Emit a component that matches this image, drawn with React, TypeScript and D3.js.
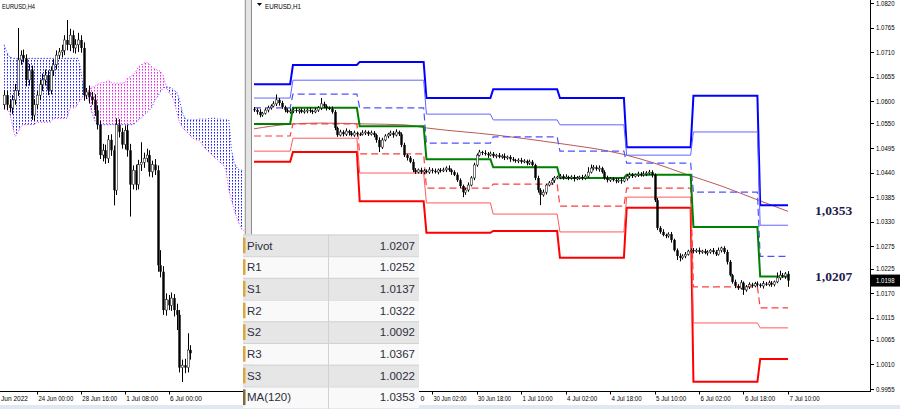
import React from 'react';
import * as d3 from 'd3';

// ---------- H1 panel data (prices as pips above 1.0000) ----------
// bars 0..192 = 27 Jun 10:00 .. 7 Jul 10:00 (EURUSD H1)
const h1Open0 = 582;
const h1Close = [
  580, 576, 569, 573, 580, 585, 589, 594, 603, 596,
  587, 580, 576, 578, 580, 578, 580, 576, 578, 580,
  578, 576, 580, 585, 594, 589, 585, 583, 576, 540,
  524, 531, 526, 533, 529, 524, 529, 526, 526, 529,
  531, 526, 529, 524, 513, 497, 513, 522, 526, 529,
  524, 531, 526, 502, 479, 473, 464, 446, 441, 446,
  441, 444, 441, 446, 444, 441, 446, 444, 446, 450,
  446, 441, 435, 423, 410, 396, 401, 412, 428, 457,
  479, 486, 484, 482, 479, 482, 477, 479, 475, 477,
  473, 475, 470, 468, 466, 468, 464, 466, 461, 464,
  457, 428, 401, 390, 396, 412, 417, 423, 428, 430,
  432, 428, 430, 428, 430, 426, 428, 430, 428, 432,
  441, 450, 452, 448, 450, 441, 428, 423, 426, 423,
  421, 423, 421, 426, 432, 435, 432, 435, 437, 435,
  437, 439, 441, 435, 378, 316, 307, 300, 298, 302,
  289, 266, 253, 249, 253, 257, 264, 266, 264, 266,
  262, 264, 260, 262, 266, 262, 257, 266, 271, 262,
  240, 210, 195, 186, 181, 193, 177, 184, 189, 186,
  191, 189, 186, 191, 189, 193, 189, 195, 204, 210,
  208, 213, 198,
];
const h1UpWick = [
  5, 4, 6, 3, 4, 5, 4, 6, 12, 4, 5, 3, 4, 6, 4, 5, 3, 4, 5, 4,
  6, 3, 5, 4, 13, 5, 4, 3, 5, 4, 3, 5, 4, 6, 3, 4, 5, 3, 4, 6,
  4, 3, 5, 4, 3, 6, 5, 4, 3, 5, 4, 6, 3, 4, 5, 3, 4, 6, 4, 3,
  5, 4, 3, 6, 4, 5, 3, 4, 5, 4, 6, 3, 4, 5, 4, 3, 5, 6, 4, 5,
  4, 5, 3, 6, 4, 5, 4, 3, 5, 4, 6, 3, 4, 5, 3, 4, 5, 4, 3, 5,
  4, 3, 5, 4, 6, 3, 4, 5, 4, 3, 5, 4, 6, 3, 4, 5, 4, 3, 5, 4,
  11, 8, 5, 4, 6, 3, 4, 5, 4, 3, 5, 4, 6, 3, 4, 5, 4, 3, 5, 4,
  6, 4, 5, 4, 3, 5, 4, 6, 3, 4, 5, 3, 4, 6, 4, 5, 3, 4, 5, 4,
  6, 3, 5, 4, 3, 5, 4, 6, 3, 4, 5, 4, 3, 5, 4, 6, 3, 4, 5, 4,
  4, 5, 3, 6, 4, 5, 4, 3, 12, 10, 5, 4, 6,
];
const h1DnWick = [
  4, 6, 5, 4, 3, 5, 4, 3, 5, 6, 4, 5, 3, 4, 5, 4, 6, 3, 4, 5,
  4, 5, 3, 4, 5, 4, 6, 3, 4, 5, 4, 3, 5, 4, 6, 3, 4, 5, 4, 3,
  5, 4, 3, 5, 6, 11, 4, 3, 5, 4, 6, 3, 4, 5, 4, 6, 3, 5, 4, 3,
  4, 5, 3, 4, 6, 3, 5, 4, 3, 5, 4, 6, 3, 4, 5, 11, 6, 4, 3, 5,
  4, 3, 5, 4, 6, 3, 4, 5, 3, 4, 5, 4, 6, 3, 4, 5, 4, 3, 5, 4,
  3, 5, 6, 23, 4, 5, 3, 4, 6, 3, 5, 4, 3, 5, 4, 6, 3, 4, 5, 4,
  4, 3, 5, 4, 6, 3, 4, 5, 4, 3, 5, 4, 6, 3, 4, 5, 4, 3, 5, 4,
  4, 5, 3, 6, 4, 5, 4, 3, 5, 4, 6, 3, 9, 8, 4, 5, 3, 4, 5, 4,
  5, 4, 3, 6, 4, 5, 4, 3, 5, 4, 6, 3, 4, 5, 4, 3, 11, 4, 5, 4,
  3, 5, 4, 6, 3, 4, 5, 4, 3, 5, 4, 6, 14,
];

// daily pivot levels, days 27 Jun .. 7 Jul (start bar of each day)
const dayStartBar = [0, 14, 38, 62, 86, 110, 134, 158, 182];
const lastH1Bar = 192;
const pivR3 = [638, 681, 688, 607, 627, 607, 497, 612, 367];
const pivR2 = [607, 647, 647, 571, 558, 547, 479, 531, 322];
const pivR1 = [585, 616, 585, 506, 520, 488, 461, 396, 252];
const pivPP = [549, 585, 544, 470, 452, 428, 435, 318, 207];
const pivS1 = [522, 549, 482, 405, 414, 365, 405, 184, 137];
const pivS2 = [488, 517, 439, 372, 347, 307, 385, 103, 92];
const pivS3 = [464, 486, 376, 305, 309, 249, 361, -29, 22];

// MA(120) read at a few bars
const maBars = [0, 12, 24, 40, 54, 62, 87, 109, 132, 144, 155, 168, 181, 192];
const maVals = [538, 548, 551, 549, 547, 540, 524, 506, 482, 461, 437, 410, 379, 353];

// visible H1 time labels (earlier ones sit under the table; only the trailing "0" of "29 Jun 10:00" shows)
const h1TickBars = [64, 80, 96, 112, 128, 144, 160, 176, 192];
const h1TickLabels = ['30 Jun 02:00', '30 Jun 18:00',
  '1 Jul 10:00', '4 Jul 02:00', '4 Jul 18:00', '5 Jul 10:00', '6 Jul 02:00', '6 Jul 18:00', '7 Jul 10:00'];
const h1CutLabel = '0';
const priceTicks = [1.0820, 1.0765, 1.0710, 1.0655, 1.0600, 1.0550, 1.0495, 1.0440, 1.0385, 1.0330,
  1.0275, 1.0225, 1.0170, 1.0115, 1.0065, 1.0010, 0.9955];
const lastPrice = 1.0198;

const tableLabels = ['Pivot', 'R1', 'S1', 'R2', 'S2', 'R3', 'S3', 'MA(120)'];
const tableValues = ['1.0207', '1.0252', '1.0137', '1.0322', '1.0092', '1.0367', '1.0022', '1.0353'];
const calloutValues = ['1,0353', '1,0207'];
const calloutPrices = [1.0353, 1.0207];

// ---------- H4 panel data ----------
// bars n = -60..8 (n = 0 is 6 Jul 00:00)
const h4FirstBar = -60;
const h4Open0 = 509;
const h4Close = [
  521, 509, 505, 515, 527, 565, 571, 567, 540, 552,
  496, 509, 521, 534, 540, 546, 527, 552, 559, 571,
  575, 577, 590, 584, 596, 580, 584, 590, 580, 521,
  525, 519, 515, 502, 484, 446, 452, 442, 465, 452,
  402, 484, 475, 459, 477, 452, 409, 427, 409, 434,
  437, 442, 446, 425, 434, 427, 308, 300, 252, 265,
  258, 267, 252, 246, 180, 183, 180, 202, 198,
];
const h4UpWick = [
  6, 5, 7, 6, 8, 40, 6, 7, 5, 8, 6, 7, 5, 6, 8, 7, 6, 5, 7, 6,
  5, 7, 6, 25, 8, 6, 7, 9, 6, 7, 5, 8, 6, 7, 6, 5, 8, 7, 6, 7,
  6, 8, 7, 5, 6, 7, 8, 6, 7, 6, 25, 7, 8, 6, 5, 7, 6, 19, 7, 8,
  6, 7, 5, 8, 6, 7, 8, 21, 6,
];
const h4DnWick = [
  6, 7, 5, 8, 6, 7, 6, 5, 8, 7, 6, 7, 5, 6, 8, 7, 6, 5, 7, 6,
  5, 7, 6, 7, 8, 6, 7, 9, 6, 7, 5, 8, 6, 7, 6, 5, 8, 7, 6, 7,
  19, 6, 7, 5, 6, 8, 40, 6, 7, 6, 8, 7, 5, 6, 7, 6, 8, 7, 6, 7,
  6, 7, 8, 19, 6, 18, 7, 6, 8,
];
// Ichimoku Senkou spans, n = -60..28
const spanA = [
  584, 575, 569,
  567, 567, 567, 567, 567, 567, 567, 567, 567, 567, 567, 567, 567, 567, 567, 567, 567, 567, 567, 567, 567, 567, 567, 567, 567,
  552, 527, 519, 515, 500, 490, 484,
  484, 484, 484, 484, 484, 484, 484, 484, 484, 484, 484, 484, 484,
  486, 490, 492, 496, 499, 502, 506, 515, 519, 525, 530, 531, 531,
  530, 527, 525, 515, 500, 492,
  490, 490, 490, 490, 491, 491, 491, 491, 492, 492, 492, 491, 491, 490, 490, 490,
  452, 436, 430, 427, 427, 425,
];
const spanB = [
  515, 505, 499, 484, 469, 474, 481,
  484, 484, 484, 484, 484,
  487, 487, 487, 487, 487, 487,
  492, 492, 492, 492, 492, 492,
  505, 505, 505,
  511, 515, 521, 525, 527, 531, 532, 534, 536, 537, 537, 540, 537,
  536, 536, 536, 536,
  537, 542, 544, 546, 550, 556, 559, 561, 562, 560, 556, 554, 552, 551, 546, 534,
  525, 521, 515, 500, 487, 481, 477, 474, 470, 467, 465, 465, 461, 456, 452, 449, 446, 442, 440, 436, 434, 427,
  402, 390, 377, 367, 358, 352, 350,
];
const h4TickBars = [-48, -32, -16, 0];
const h4TickLabels = ['24 Jun 00:00', '28 Jun 16:00', '1 Jul 08:00', '6 Jul 00:00'];
const h4FirstLabel = 'Jun 2022';

const P = (v: number) => 1 + v / 10000;

type Candle = { x: number; o: number; c: number; h: number; l: number };

function buildCandles(closes: number[], open0: number, up: number[], dn: number[]) {
  return closes.map((c, i) => {
    const o = i === 0 ? open0 : closes[i - 1];
    return { o, c, h: Math.max(o, c) + up[i], l: Math.min(o, c) - dn[i] };
  });
}

function Candles({ data, x, y }: { data: Candle[]; x: (n: number) => number; y: (p: number) => number }) {
  return (
    <g>
      {data.map((d, i) => {
        const cx = Math.round(x(d.x)) + 0.5;
        const yo = y(P(d.o));
        const yc = y(P(d.c));
        const top = Math.min(yo, yc);
        const hgt = Math.max(1, Math.abs(yo - yc));
        const bull = d.c > d.o;
        return (
          <g key={i}>
            <line x1={cx} x2={cx} y1={y(P(d.h))} y2={y(P(d.l))} stroke="#000" strokeWidth={1} />
            {bull ? (
              <rect x={cx - 1} y={top} width={2} height={hgt} fill="#fff" stroke="#222" strokeWidth={0.6} />
            ) : (
              <rect x={cx - 1.2} y={top} width={2.4} height={hgt} fill="#000" />
            )}
          </g>
        );
      })}
    </g>
  );
}

export default function App() {
  const xR = d3.scaleLinear().domain([0, 192]).range([254, 788]);
  const yR = d3.scaleLinear().domain([0.9955, 1.082]).range([389, 3]);
  const xL = d3.scaleLinear().domain([0, 1]).range([168.5, 171.24]);
  const yL = d3.scaleLinear().domain([1.0162, 1.0615]).range([382, 20]);

  const h1 = buildCandles(h1Close, h1Open0, h1UpWick, h1DnWick).map((d, i) => ({ ...d, x: i }));
  const h4 = buildCandles(h4Close, h4Open0, h4UpWick, h4DnWick).map((d, i) => ({ ...d, x: h4FirstBar + i }));

  const levelLine = (vals: number[]) => {
    const pts: [number, number][] = [];
    vals.forEach((v, d) => {
      const s = dayStartBar[d];
      const e = d < dayStartBar.length - 1 ? dayStartBar[d + 1] - 1 : lastH1Bar;
      pts.push([xR(s), yR(P(v))], [xR(e), yR(P(v))]);
    });
    return d3.line()(pts) || '';
  };

  const levels = [
    { vals: pivR3, color: '#0000ff', w: 2, dash: undefined },
    { vals: pivR2, color: '#6464ff', w: 1, dash: undefined },
    { vals: pivR1, color: '#5050ff', w: 1.2, dash: '7,4' },
    { vals: pivS3, color: '#ff0000', w: 2, dash: undefined },
    { vals: pivS2, color: '#ff5a5a', w: 1, dash: undefined },
    { vals: pivS1, color: '#ff3c3c', w: 1.2, dash: '7,4' },
    { vals: pivPP, color: '#008000', w: 2, dash: undefined },
  ];

  const maPath = d3.line<number>()
    .x((_, i) => xR(maBars[i]))
    .y((v) => yR(P(v)))
    .curve(d3.curveMonotoneX)(maVals) || '';

  const idx = spanA.map((_, i) => h4FirstBar + i);
  const A = (n: number) => spanA[n - h4FirstBar];
  const B = (n: number) => spanB[n - h4FirstBar];
  const blueArea = d3.area<number>().x((n) => xL(n))
    .y0((n) => yL(P(A(n)))).y1((n) => yL(P(Math.min(A(n), B(n)))))(idx) || '';
  const pinkArea = d3.area<number>().x((n) => xL(n))
    .y0((n) => yL(P(B(n)))).y1((n) => yL(P(Math.min(A(n), B(n)))))(idx) || '';
  const lineA = d3.line<number>().x((n) => xL(n)).y((n) => yL(P(A(n))))(idx) || '';
  const lineB = d3.line<number>().x((n) => xL(n)).y((n) => yL(P(B(n))))(idx) || '';

  const axisY = 391.5;
  const tableTop = 234.5;
  const rowH = 21.7;
  const tableX = 243;
  const tableW = 176;
  const colX = 328;

  return (
    <svg width={900} height={409} style={{ position: 'absolute', left: 0, top: 0, background: '#fff' }}
      fontFamily="'Liberation Sans', Arial, sans-serif">
      <defs>
        <pattern id="dotBlue" width={3} height={3} patternUnits="userSpaceOnUse">
          <rect x={1} y={0} width={1} height={1.6} fill="#2020ff" />
        </pattern>
        <pattern id="dotPink" width={3} height={3} patternUnits="userSpaceOnUse">
          <rect x={1} y={0} width={1} height={1.6} fill="#f020f0" />
        </pattern>
        <clipPath id="clipL"><rect x={0} y={0} width={244} height={391} /></clipPath>
        <clipPath id="clipR"><rect x={252} y={0} width={618} height={391} /></clipPath>
      </defs>
      <rect x={0} y={0} width={900} height={409} fill="#fff" />

      {/* ---------- Left H4 panel ---------- */}
      <g clipPath="url(#clipL)">
        <path d={blueArea} fill="url(#dotBlue)" />
        <path d={pinkArea} fill="url(#dotPink)" />
        <path d={lineA} fill="none" stroke="#3030ff" strokeWidth={1} strokeDasharray="1,2" />
        <path d={lineB} fill="none" stroke="#f030f0" strokeWidth={1} strokeDasharray="1,2" />
        <Candles data={h4} x={xL} y={yL} />
      </g>
      <text x={2} y={9} fontSize={7.5} fill="#000" textLength={33} lengthAdjust="spacingAndGlyphs">EURUSD,H4</text>
      <line x1={0} x2={244} y1={axisY} y2={axisY} stroke="#000" strokeWidth={1} />
      <text x={1} y={401} fontSize={7} fill="#000" textLength={27} lengthAdjust="spacingAndGlyphs">{h4FirstLabel}</text>
      {h4TickBars.map((n, i) => (
        <g key={i}>
          <line x1={Math.round(xL(n)) + 0.5} x2={Math.round(xL(n)) + 0.5} y1={axisY} y2={axisY + 3} stroke="#000" />
          <text x={xL(n) + 1.5} y={401} fontSize={7} fill="#000" textLength={h4TickLabels[i].length * 2.9}
            lengthAdjust="spacingAndGlyphs">{h4TickLabels[i]}</text>
        </g>
      ))}

      {/* separator */}
      <rect x={244} y={0} width={8} height={409} fill="#e4e4e4" />
      <line x1={245.5} x2={245.5} y1={0} y2={409} stroke="#a0a0a0" />
      <line x1={251.5} x2={251.5} y1={0} y2={409} stroke="#8c8c8c" />

      {/* ---------- Right H1 panel ---------- */}
      <g clipPath="url(#clipR)">
        <path d={maPath} fill="none" stroke="#b85a55" strokeWidth={1} />
        {levels.map((l, i) => (
          <path key={i} d={levelLine(l.vals)} fill="none" stroke={l.color} strokeWidth={l.w}
            strokeDasharray={l.dash} />
        ))}
        <Candles data={h1} x={xR} y={yR} />
      </g>
      <path d="M257,3 L262,3 L259.5,6 Z" fill="#000" />
      <text x={265} y={9} fontSize={7.5} fill="#000" textLength={36} lengthAdjust="spacingAndGlyphs">EURUSD,H1</text>

      {calloutValues.map((t, i) => (
        <text key={i} x={815} y={yR(calloutPrices[i]) + 4} fontSize={13.5} fontWeight="bold"
          fontFamily="'Liberation Serif', 'DejaVu Serif', serif" fill="#1c1c4e">{t}</text>
      ))}

      {/* axes */}
      <line x1={870.5} x2={870.5} y1={0} y2={axisY} stroke="#000" />
      <line x1={252} x2={871} y1={axisY} y2={axisY} stroke="#000" />
      {priceTicks.map((p, i) => (
        <g key={i}>
          <line x1={870} x2={874} y1={Math.round(yR(p)) + 0.5} y2={Math.round(yR(p)) + 0.5} stroke="#000" />
          <text x={876} y={yR(p) + 2.5} fontSize={7} fill="#000" textLength={18.5}
            lengthAdjust="spacingAndGlyphs">{p.toFixed(4)}</text>
        </g>
      ))}
      <rect x={871} y={yR(lastPrice) - 6} width={29} height={12} fill="#000" />
      <text x={876} y={yR(lastPrice) + 2.5} fontSize={7} fill="#fff" textLength={18.5}
        lengthAdjust="spacingAndGlyphs">{lastPrice.toFixed(4)}</text>
      {h1TickBars.map((b, i) => (
        <g key={i}>
          <line x1={Math.round(xR(b)) + 0.5} x2={Math.round(xR(b)) + 0.5} y1={axisY} y2={axisY + 3} stroke="#000" />
          <text x={xR(b) + 1.5} y={401} fontSize={7} fill="#000" textLength={h1TickLabels[i].length * 2.75}
            lengthAdjust="spacingAndGlyphs">{h1TickLabels[i]}</text>
        </g>
      ))}
      <text x={420.5} y={401} fontSize={7} fill="#000">{h1CutLabel}</text>

      <rect x={0} y={405} width={900} height={4} fill="#dfe8f3" />

      {/* ---------- Table ---------- */}
      <g>
        {tableLabels.map((lab, i) => {
          const y0 = tableTop + i * rowH;
          return (
            <g key={i}>
              <rect x={tableX} y={y0} width={tableW} height={rowH} fill={i % 2 === 0 ? '#e6e6e6' : '#f9f9f9'} />
              <line x1={tableX} x2={tableX + tableW} y1={y0 + 0.5} y2={y0 + 0.5} stroke="#d2d2d2" />
              <rect x={tableX} y={y0 + 3} width={2.5} height={rowH - 6} fill={i === 7 ? '#7a6a40' : '#d9a640'} />
              <text x={tableX + 4} y={y0 + rowH / 2 + 4.2} fontSize={11.5} fill="#2e2e3c">{lab}</text>
              <text x={tableX + tableW - 4} y={y0 + rowH / 2 + 4.2} fontSize={11.5} fill="#2e2e3c"
                textAnchor="end">{tableValues[i]}</text>
            </g>
          );
        })}
        <line x1={colX + 0.5} x2={colX + 0.5} y1={tableTop} y2={409} stroke="#d2d2d2" />
      </g>
    </svg>
  );
}
